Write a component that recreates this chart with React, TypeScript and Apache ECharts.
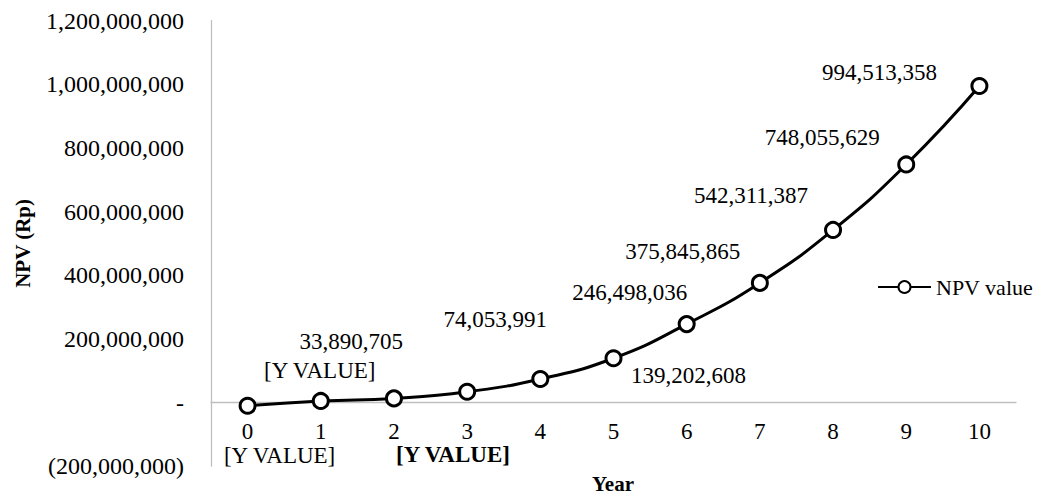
import React, { useEffect, useRef } from "react";
import * as echarts from "echarts";

const years = ["0", "1", "2", "3", "4", "5", "6", "7", "8", "9", "10"];
const npvValues = [
  -10000000, 5000000, 13000000, 33890705, 74053991, 139202608, 246498036,
  375845865, 542311387, 748055629, 994513358,
];
const placeholderLabels = [true, true, true, false, false, false, false, false, false, false, false];
const seriesName = "NPV value";
const xTitle = "Year";
const yTitle = "NPV (Rp)";
const yMin = -200000000;
const yMax = 1200000000;
const yStep = 200000000;

// label placement (pixel offsets from each point)
const labelOffsets: [number, number][] = [
  [32, 50], [-1, -30], [59, 56], [-116, -50], [-45, -59], [75, 17],
  [-57, -32], [-77, -31], [-82, -34], [-84, -27], [-100, -14],
];

const FONT = "'Liberation Serif', 'Times New Roman', serif";

function fmtNum(v: number): string {
  if (v === 0) return "-";
  const s = Math.abs(v).toLocaleString("en-US");
  return v < 0 ? "(" + s + ")" : s;
}

export default function App() {
  const ref = useRef<HTMLDivElement>(null);
  useEffect(() => {
    if (!ref.current) return;
    const chart = echarts.init(ref.current, null, { renderer: "svg" });
    const gridTop = 20.6;
    const gridBottom = 28.8;
    const plotH = 495 - gridTop - gridBottom;
    const zeroFromBottom = (plotH * (0 - yMin)) / (yMax - yMin);
    chart.setOption({
      animation: false,
      backgroundColor: "#ffffff",
      textStyle: { fontFamily: FONT },
      grid: {
        left: 211,
        right: 25,
        top: gridTop,
        bottom: gridBottom,
        containLabel: false,
        outerBoundsMode: "none",
      },
      legend: {
        data: [seriesName],
        left: 872,
        top: 271,
        itemWidth: 53,
        itemHeight: 15,
        itemGap: 8,
        textStyle: { fontFamily: FONT, fontSize: 22, color: "#000" },
      },
      graphic: [
        {
          type: "text",
          x: 613,
          y: 484,
          style: {
            text: xTitle,
            fontFamily: FONT,
            fontSize: 21,
            fontWeight: "bold",
            fill: "#000",
            align: "center",
            verticalAlign: "middle",
          },
        },
      ],
      xAxis: {
        type: "category",
        data: years,
        boundaryGap: true,
        position: "bottom",
        offset: -zeroFromBottom,
        axisLine: { onZero: false, lineStyle: { color: "#bfbfbf", width: 1.3 } },
        axisTick: { show: false },
        axisLabel: { fontFamily: FONT, fontSize: 23, color: "#000", margin: 17 },
      },
      yAxis: {
        type: "value",
        min: yMin,
        max: yMax,
        interval: yStep,
        axisLine: { show: true, lineStyle: { color: "#bfbfbf", width: 1.3 } },
        axisTick: { show: false },
        splitLine: { show: false },
        axisLabel: {
          fontFamily: FONT,
          fontSize: 24,
          color: "#000",
          margin: 27,
          formatter: (v: number) => fmtNum(v),
        },
        name: yTitle,
        nameLocation: "middle",
        nameGap: 178,
        nameRotate: 90,
        nameTextStyle: { fontFamily: FONT, fontSize: 21, fontWeight: "bold", color: "#000" },
      },
      series: [
        {
          name: seriesName,
          type: "line",
          smooth: true,
          symbol: "circle",
          symbolSize: 15,
          lineStyle: { color: "#000", width: 3 },
          itemStyle: { color: "#fff", borderColor: "#000", borderWidth: 3 },
          data: npvValues.map((v, i) => ({
            value: v,
            label: {
              show: true,
              position: "inside",
              offset: labelOffsets[i],
              fontWeight: i === 2 ? "bold" : "normal",
              formatter: () => (placeholderLabels[i] ? "[Y VALUE]" : fmtNum(v)),
            },
          })),
          label: {
            show: true,
            fontFamily: FONT,
            fontSize: 23,
            color: "#000",
          },
        },
      ],
    });
    return () => chart.dispose();
  }, []);
  return (
    <div
      ref={ref}
      style={{ position: "absolute", left: 0, top: 0, width: 1041, height: 495 }}
    />
  );
}
